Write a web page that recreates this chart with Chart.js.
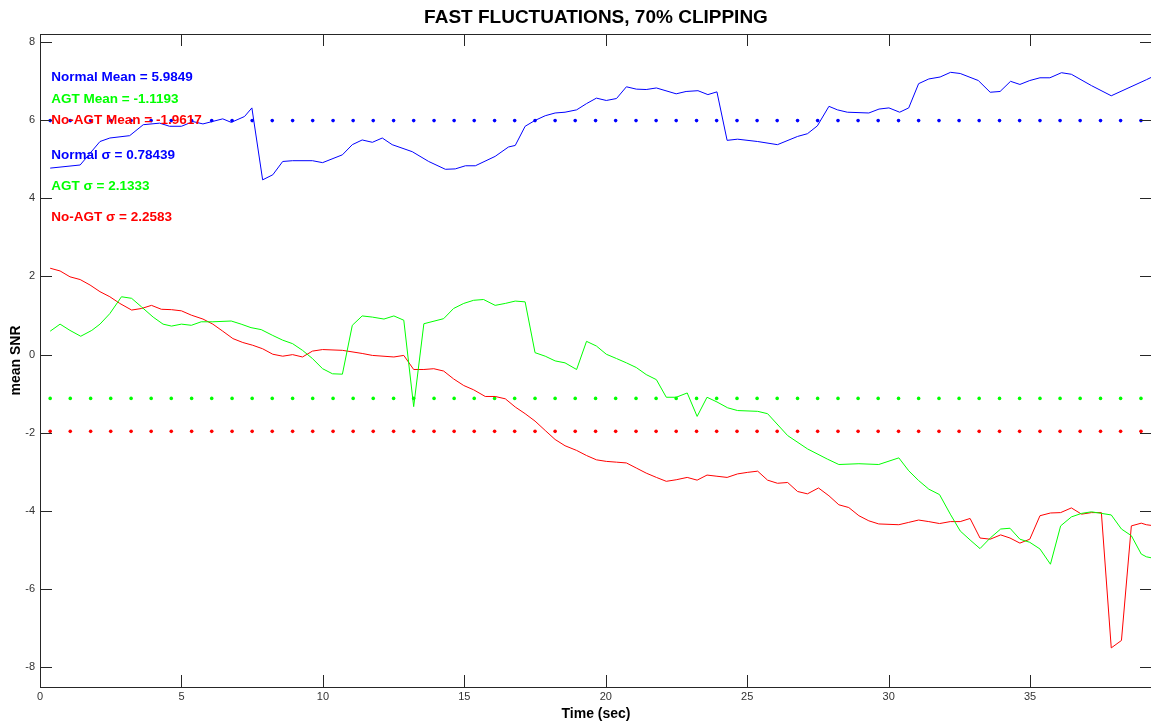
<!DOCTYPE html>
<html>
<head>
<meta charset="utf-8">
<script src="https://cdn.jsdelivr.net/npm/chart.js@4.4.1/dist/chart.umd.min.js"></script>
<style>
  html, body { margin: 0; padding: 0; background: #fff; overflow: hidden; }
  /* axes box runs a few px past the right edge, as in the original figure */
  #wrap { width: 1156px; height: 723px; position: relative; }
</style>
</head>
<body>
<div id="wrap"><canvas id="snrChart"></canvas></div>
<script>
// axis ticks
const xTicks = [0, 5, 10, 15, 20, 25, 30, 35];
const yTicks = [-8, -6, -4, -2, 0, 2, 4, 6, 8];

// Normal (blue)
const normalT = [0.36, 1.42, 2.12, 2.47, 3.17, 3.65, 4.23, 4.58, 5.0, 5.41, 5.76, 6.46, 6.76, 7.23, 7.49, 7.87, 8.23, 8.58, 8.93, 9.63,
  9.99, 10.69, 11.04, 11.39, 11.75, 12.1, 12.45, 13.16, 13.74, 14.33, 14.68, 15.04, 15.39, 16.09, 16.56, 16.8, 17.15, 17.5, 17.86, 18.21,
  18.56, 18.97, 19.32, 19.67, 20.02, 20.38, 20.73, 21.08, 21.43, 21.79, 22.49, 22.84, 23.26, 23.61, 23.93, 24.29, 24.66, 25.37, 26.07, 26.78,
  27.13, 27.48, 27.89, 28.19, 28.54, 29.30, 29.66, 30.01, 30.39, 30.71, 31.06, 31.42, 31.82, 32.19, 32.53, 33.17, 33.59, 33.94, 34.31, 34.64,
  34.99, 35.35, 35.70, 36.11, 36.46, 37.17, 37.87, 39.11, 39.31];
const normalSNR = [4.77, 4.85, 5.45, 5.54, 5.60, 5.88, 5.92, 5.84, 5.84, 5.96, 5.90, 6.03, 5.94, 6.09, 6.31, 4.47, 4.60, 4.94, 4.96, 4.96,
  4.91, 5.11, 5.37, 5.49, 5.43, 5.54, 5.37, 5.19, 4.94, 4.74, 4.75, 4.83, 4.83, 5.07, 5.31, 5.35, 5.84, 5.99, 6.11, 6.18,
  6.20, 6.26, 6.42, 6.56, 6.50, 6.55, 6.85, 6.79, 6.78, 6.82, 6.67, 6.73, 6.75, 6.65, 6.72, 5.48, 5.51, 5.45, 5.37, 5.58,
  5.65, 5.85, 6.35, 6.26, 6.20, 6.18, 6.28, 6.31, 6.20, 6.31, 6.93, 7.05, 7.10, 7.22, 7.19, 7.01, 6.71, 6.73, 6.99, 6.91,
  7.01, 7.08, 7.08, 7.21, 7.17, 6.88, 6.62, 7.03, 7.10];

// AGT (green)
const agtT = [0.36, 0.71, 1.06, 1.44, 1.83, 2.12, 2.47, 2.88, 3.24, 3.59, 4.0, 4.35, 4.65, 5.0, 5.35, 5.70, 6.11, 6.76, 7.11, 7.46,
  7.82, 8.23, 8.58, 8.93, 9.28, 9.63, 9.99, 10.34, 10.69, 11.04, 11.39, 11.75, 12.16, 12.51, 12.86, 13.21, 13.57, 14.27, 14.62, 14.98,
  15.33, 15.68, 16.09, 16.45, 16.80, 17.15, 17.50, 17.86, 18.21, 18.56, 18.97, 19.32, 19.67, 20.02, 20.38, 20.73, 21.08, 21.43, 21.79, 22.14,
  22.49, 22.88, 23.23, 23.58, 23.93, 24.31, 24.66, 25.37, 25.72, 26.43, 27.13, 27.83, 28.24, 28.95, 29.65, 30.36, 30.71, 31.06, 31.42, 31.80,
  32.18, 32.53, 32.88, 33.23, 33.59, 33.96, 34.29, 34.64, 34.99, 35.35, 35.72, 36.08, 36.46, 36.82, 37.17, 37.52, 37.87, 38.23, 38.58, 38.93,
  39.11, 39.31];
const agtSNR = [0.60, 0.78, 0.62, 0.47, 0.62, 0.78, 1.05, 1.48, 1.44, 1.22, 0.96, 0.78, 0.73, 0.78, 0.75, 0.84, 0.84, 0.86, 0.78, 0.69,
  0.64, 0.49, 0.37, 0.28, 0.11, -0.10, -0.36, -0.49, -0.50, 0.75, 0.99, 0.96, 0.91, 0.99, 0.88, -1.33, 0.79, 0.92, 1.18, 1.31,
  1.39, 1.41, 1.26, 1.31, 1.37, 1.35, 0.05, -0.04, -0.16, -0.21, -0.38, 0.34, 0.22, 0.01, -0.10, -0.21, -0.33, -0.51, -0.64, -1.09,
  -1.09, -0.98, -1.58, -1.09, -1.21, -1.36, -1.43, -1.45, -1.51, -2.07, -2.41, -2.67, -2.81, -2.79, -2.81, -2.64, -2.97, -3.22, -3.44, -3.58,
  -4.08, -4.51, -4.74, -4.96, -4.69, -4.46, -4.44, -4.72, -4.80, -4.97, -5.36, -4.38, -4.15, -4.06, -4.02, -4.06, -4.10, -4.46, -4.63, -5.10,
  -5.17, -5.20];

// No-AGT (red)
const noAgtT = [0.36, 0.71, 1.06, 1.42, 1.77, 2.12, 2.47, 2.82, 3.24, 3.59, 3.94, 4.29, 4.65, 5.0, 5.35, 5.76, 6.11, 6.46, 6.82, 7.17,
  7.52, 7.87, 8.23, 8.58, 8.93, 9.28, 9.63, 9.99, 10.69, 11.39, 11.75, 12.51, 12.86, 13.21, 13.57, 13.92, 14.27, 14.62, 14.98, 15.33,
  15.74, 16.09, 16.45, 16.80, 17.15, 17.50, 17.86, 18.21, 18.56, 18.97, 19.32, 19.67, 20.02, 20.38, 20.73, 21.08, 21.43, 21.79, 22.14, 22.49,
  22.88, 23.23, 23.58, 23.93, 24.29, 24.66, 25.02, 25.37, 25.72, 26.07, 26.43, 26.78, 27.13, 27.52, 27.89, 28.24, 28.59, 28.95, 29.30, 29.65,
  30.36, 30.71, 31.06, 31.42, 31.80, 32.18, 32.53, 32.88, 33.23, 33.59, 33.96, 34.29, 34.64, 34.99, 35.35, 35.72, 36.08, 36.46, 36.82, 37.17,
  37.52, 37.87, 38.23, 38.58, 38.93, 39.11, 39.31];
const noAgtSNR = [2.21, 2.14, 1.99, 1.92, 1.78, 1.61, 1.48, 1.31, 1.14, 1.18, 1.26, 1.16, 1.15, 1.12, 1.01, 0.91, 0.78, 0.60, 0.41, 0.31,
  0.24, 0.15, 0.01, -0.04, 0.0, -0.06, 0.09, 0.13, 0.11, 0.03, -0.02, -0.06, -0.02, -0.38, -0.38, -0.36, -0.42, -0.62, -0.79, -0.90,
  -1.07, -1.07, -1.13, -1.34, -1.51, -1.70, -1.94, -2.17, -2.33, -2.45, -2.58, -2.69, -2.73, -2.75, -2.77, -2.90, -3.03, -3.14, -3.24, -3.20,
  -3.14, -3.21, -3.08, -3.11, -3.14, -3.05, -3.01, -2.98, -3.21, -3.29, -3.27, -3.50, -3.56, -3.41, -3.61, -3.84, -3.91, -4.12, -4.25, -4.33,
  -4.35, -4.29, -4.23, -4.27, -4.32, -4.27, -4.27, -4.19, -4.69, -4.72, -4.61, -4.69, -4.82, -4.72, -4.12, -4.05, -4.04, -3.92, -4.08, -4.04,
  -4.04, -7.50, -7.31, -4.38, -4.31, -4.35, -4.37];

// dotted mean lines
const meanT = [0.36, 1.07, 1.79, 2.50, 3.22, 3.93, 4.64, 5.36, 6.07, 6.79, 7.50, 8.21, 8.93, 9.64, 10.36, 11.07, 11.78, 12.50, 13.21, 13.93,
  14.64, 15.35, 16.07, 16.78, 17.50, 18.21, 18.92, 19.64, 20.35, 21.07, 21.78, 22.49, 23.21, 23.92, 24.64, 25.35, 26.06, 26.78, 27.49, 28.21,
  28.92, 29.63, 30.35, 31.06, 31.78, 32.49, 33.20, 33.92, 34.63, 35.35, 36.06, 36.77, 37.49, 38.20, 38.92];
const normalMean = 5.9849;
const agtMean = -1.1193;
const noAgtMean = -1.9617;

// stats text (baseline positions in data units)
const statLabels = ['Normal Mean = 5.9849', 'AGT Mean = -1.1193', 'No-AGT Mean = -1.9617',
  'Normal \u03c3 = 0.78439', 'AGT \u03c3 = 2.1333', 'No-AGT \u03c3 = 2.2583'];
const statY = [6.99, 6.44, 5.91, 5.0, 4.21, 3.43];
const statX = 0.4;

const BLUE = '#0000ff', GREEN = '#00ff00', RED = '#ff0000';
const statColors = [BLUE, GREEN, RED, BLUE, GREEN, RED];

Chart.defaults.font.family = '"Liberation Sans", Arial, Helvetica, sans-serif';

function pts(ts, ys) {
  return ts.map((t, i) => ({ x: t, y: ys[i] }));
}
function flat(ts, v) {
  return ts.map(t => ({ x: t, y: v }));
}

// box + inward ticks like matlab
const axesBox = {
  id: 'axesBox',
  afterDraw(chart) {
    const { ctx, chartArea: a, scales } = chart;
    const len = 12;
    ctx.save();
    ctx.strokeStyle = '#262626';
    ctx.lineWidth = 1;
    ctx.strokeRect(a.left + 0.5, a.top + 0.5, a.right - a.left, a.bottom - a.top);
    ctx.beginPath();
    scales.x.ticks.forEach(t => {
      const px = Math.round(scales.x.getPixelForValue(t.value)) + 0.5;
      ctx.moveTo(px, a.bottom); ctx.lineTo(px, a.bottom - len);
      ctx.moveTo(px, a.top); ctx.lineTo(px, a.top + len);
    });
    scales.y.ticks.forEach(t => {
      const py = Math.round(scales.y.getPixelForValue(t.value)) + 0.5;
      ctx.moveTo(a.left, py); ctx.lineTo(a.left + len, py);
      ctx.moveTo(a.right, py); ctx.lineTo(a.right - len, py);
    });
    ctx.stroke();
    ctx.restore();
  }
};

// stats annotations in data coordinates
const statText = {
  id: 'statText',
  afterDatasetsDraw(chart) {
    const { ctx, scales } = chart;
    ctx.save();
    ctx.font = 'bold 13.5px "Liberation Sans", Arial, sans-serif';
    ctx.textAlign = 'left';
    ctx.textBaseline = 'alphabetic';
    statLabels.forEach((s, i) => {
      ctx.fillStyle = statColors[i];
      ctx.fillText(s, scales.x.getPixelForValue(statX), scales.y.getPixelForValue(statY[i]));
    });
    ctx.restore();
  }
};

const lineStyle = { borderWidth: 1, pointRadius: 0, fill: false, tension: 0 };
const dotStyle = { showLine: false, pointRadius: 1.8, pointStyle: 'circle', borderWidth: 0 };
const noPad = (s) => { s.paddingLeft = 0; s.paddingRight = 0; };

new Chart(document.getElementById('snrChart'), {
  type: 'line',
  data: {
    datasets: [
      { label: 'Normal', data: pts(normalT, normalSNR), borderColor: BLUE, ...lineStyle },
      { label: 'AGT', data: pts(agtT, agtSNR), borderColor: GREEN, ...lineStyle },
      { label: 'No-AGT', data: pts(noAgtT, noAgtSNR), borderColor: RED, ...lineStyle },
      { label: 'Normal mean', data: flat(meanT, normalMean), backgroundColor: BLUE, ...dotStyle },
      { label: 'AGT mean', data: flat(meanT, agtMean), backgroundColor: GREEN, ...dotStyle },
      { label: 'No-AGT mean', data: flat(meanT, noAgtMean), backgroundColor: RED, ...dotStyle },
    ]
  },
  plugins: [axesBox, statText],
  options: {
    responsive: true,
    maintainAspectRatio: false,
    animation: false,
    layout: { padding: 0 },
    plugins: {
      legend: { display: false },
      tooltip: { enabled: false },
      title: { display: false }
    },
    scales: {
      x: {
        type: 'linear',
        min: 0,
        max: 39.31,
        afterBuildTicks: (s) => { s.ticks = xTicks.map(v => ({ value: v })); },
        afterFit: (s) => { s.height = 36; noPad(s); },
        grid: { display: false, drawTicks: false },
        border: { display: false },
        ticks: { padding: 3, color: '#333', font: { size: 11 }, maxRotation: 0, autoSkip: false },
        title: { display: true, text: 'Time (sec)', color: '#000', font: { size: 14, weight: 'bold' }, padding: { top: 3, bottom: 0 } }
      },
      // top axis only carries the title so it centres over the plot box
      top: {
        type: 'linear',
        position: 'top',
        min: 0,
        max: 39.31,
        afterFit: (s) => { s.height = 34; noPad(s); },
        grid: { display: false, drawTicks: false },
        border: { display: false },
        ticks: { display: false },
        title: { display: true, text: 'FAST FLUCTUATIONS, 70% CLIPPING', color: '#000', font: { size: 19, weight: 'bold' }, padding: { top: 6, bottom: 0 } }
      },
      y: {
        min: -8.5,
        max: 8.2,
        afterBuildTicks: (s) => { s.ticks = yTicks.map(v => ({ value: v })); },
        afterFit: (s) => { s.width = 40; },
        grid: { display: false, drawTicks: false },
        border: { display: false },
        ticks: { padding: 5, color: '#333', font: { size: 11 }, autoSkip: false },
        title: { display: true, text: 'mean SNR', color: '#000', font: { size: 14, weight: 'bold' }, padding: { top: 8, bottom: 0 } }
      }
    }
  }
});
</script>
</body>
</html>
